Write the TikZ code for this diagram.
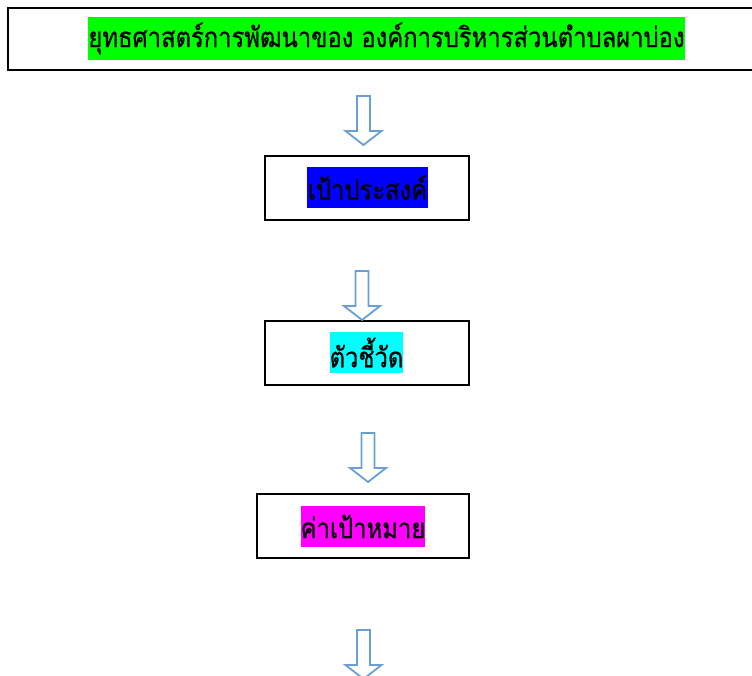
\documentclass[tikz,border=0pt]{standalone}
\usepackage{fontspec}
\newfontfamily\thaifont[Script=Thai,FakeStretch=0.85,FakeBold=0.6]{Loma}
\tikzset{
  frame/.style={draw=black, line width=2pt, fill=white, inner sep=0pt},
  hl/.style={inner sep=0pt, font=\thaifont\fontsize{28}{32}\selectfont, text=black},
  blockarrow/.pic={
    \draw[draw=arrowblue, line width=1.8pt, fill=white, line join=miter]
      (-6.5,0) -- (-6.5,35) -- (-18,35) -- (0,49) -- (18,35) -- (6.5,35) -- (6.5,0) -- cycle;
  }
}
\definecolor{arrowblue}{HTML}{6A9FD6}
\definecolor{hlgreen}{HTML}{00FF00}
\definecolor{hlblue}{HTML}{0000FF}
\definecolor{hlcyan}{HTML}{00FFFF}
\definecolor{hlmag}{HTML}{FF00FF}
\begin{document}
\begin{tikzpicture}[x=1pt,y=-1pt]
\useasboundingbox (0,0) rectangle (752,676);
% top box
\node[frame, minimum width=752pt, minimum height=62pt] (top) at (384,39) {};
\node[hl, fill=hlgreen, minimum width=597pt, minimum height=43pt] (toptxt) at (386.5,38.5) {ยุทธศาสตร์การพัฒนาของ องค์การบริหารส่วนตำบลผาบ่อง};
% box 2
\node[frame, minimum width=204pt, minimum height=64pt] (goal) at (367,188) {};
\node[hl, fill=hlblue, minimum width=121pt, minimum height=41pt] (goaltxt) at (367.5,187.5) {เป้าประสงค์};
% box 3
\node[frame, minimum width=204pt, minimum height=64pt] (ind) at (367,353) {};
\node[hl, fill=hlcyan, minimum width=73pt, minimum height=41pt] (indtxt) at (366.5,352.5) {ตัวชี้วัด};
% box 4
\node[frame, minimum width=212pt, minimum height=64pt] (target) at (363,526) {};
\node[hl, fill=hlmag, minimum width=124pt, minimum height=41pt] (targettxt) at (363,526.5) {ค่าเป้าหมาย};
% arrows
\coordinate (a1) at (363.5,96);
\coordinate (a2) at (362,271);
\coordinate (a3) at (368,433);
\coordinate (a4) at (363.5,630);
\pic at (a1) {blockarrow};
\pic at (a2) {blockarrow};
\pic at (a3) {blockarrow};
\pic at (a4) {blockarrow};
\end{tikzpicture}
\end{document}
